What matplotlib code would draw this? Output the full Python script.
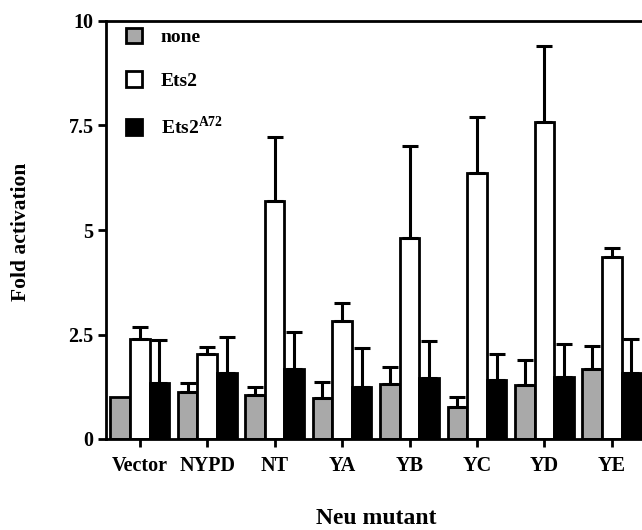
import numpy as np
import matplotlib.pyplot as plt
from matplotlib.patches import Patch

plt.rcParams['font.family'] = ['Liberation Serif', 'DejaVu Serif']
plt.rcParams['font.weight'] = 'bold'
plt.rcParams['mathtext.fontset'] = 'custom'
plt.rcParams['mathtext.bf'] = 'Liberation Serif:bold'

mutants = ['Vector', 'NYPD', 'NT', 'YA', 'YB', 'YC', 'YD', 'YE']
none_val = [1.01, 1.12, 1.05, 0.99, 1.31, 0.77, 1.28, 1.67]
none_top = [1.01, 1.33, 1.25, 1.36, 1.72, 1.00, 1.89, 2.22]
ets2_val = [2.39, 2.03, 5.69, 2.82, 4.82, 6.36, 7.58, 4.35]
ets2_top = [2.68, 2.20, 7.23, 3.26, 7.01, 7.70, 9.41, 4.58]
a72_val = [1.35, 1.59, 1.67, 1.25, 1.47, 1.41, 1.49, 1.57]
a72_top = [2.37, 2.44, 2.56, 2.18, 2.34, 2.03, 2.27, 2.39]

fig = plt.figure(figsize=(6.42, 5.30), dpi=100)
# axes run past the right edge of the figure (the original is cropped)
ax = fig.add_axes([106 / 642, 91 / 530, 607 / 642, 418 / 530])

x = np.arange(len(mutants))
w = 0.29
grey = '#a9a9a9'
series = [(none_val, none_top, grey, -w), (ets2_val, ets2_top, 'white', 0), (a72_val, a72_top, 'black', w)]
for vals, tops, col, off in series:
    vals = np.array(vals)
    err = np.array(tops) - vals
    ax.bar(x + off, vals, w, color=col, edgecolor='black', linewidth=2, zorder=2)
    mask = err > 0.02
    ax.errorbar((x + off)[mask], vals[mask], yerr=[np.zeros(mask.sum()), err[mask]],
                fmt='none', ecolor='black', elinewidth=2.2, capsize=6, capthick=2.2, zorder=3)

ax.set_xlim(-0.5, 8.5)
ax.set_ylim(0, 10)
ax.set_yticks([0, 2.5, 5, 7.5, 10])
ax.set_yticklabels(['0', '2.5', '5', '7.5', '10'])
ax.set_xticks(x)
ax.set_xticklabels(mutants)
ax.tick_params(axis='both', labelsize=14.5, width=2, length=6, pad=3)
ax.tick_params(axis='x', pad=6)
for s in ['left', 'top', 'bottom']:
    ax.spines[s].set_linewidth(2)
ax.spines['right'].set_visible(False)

fig.text(0.033, (530 - 232) / 530, 'Fold activation', rotation=90, ha='center', va='center',
         fontsize=15.5, fontweight='bold')
fig.text(376 / 642, 12 / 530, 'Neu mutant', ha='center', va='center', fontsize=17, fontweight='bold')

handles = [Patch(facecolor=grey, edgecolor='black', linewidth=2),
           Patch(facecolor='white', edgecolor='black', linewidth=2),
           Patch(facecolor='black', edgecolor='black', linewidth=2)]
labels = ['none', 'Ets2', 'Ets2$^{\\mathbf{A72}}$']
ax.legend(handles, labels, loc='upper left', bbox_to_anchor=(0.01, 1.017), frameon=False,
          handlelength=0.85, handleheight=0.85, labelspacing=1.3, handletextpad=0.95,
          borderaxespad=0.3, prop={'size': 14, 'weight': 'bold'})

fig.savefig('out.png', dpi=100)
